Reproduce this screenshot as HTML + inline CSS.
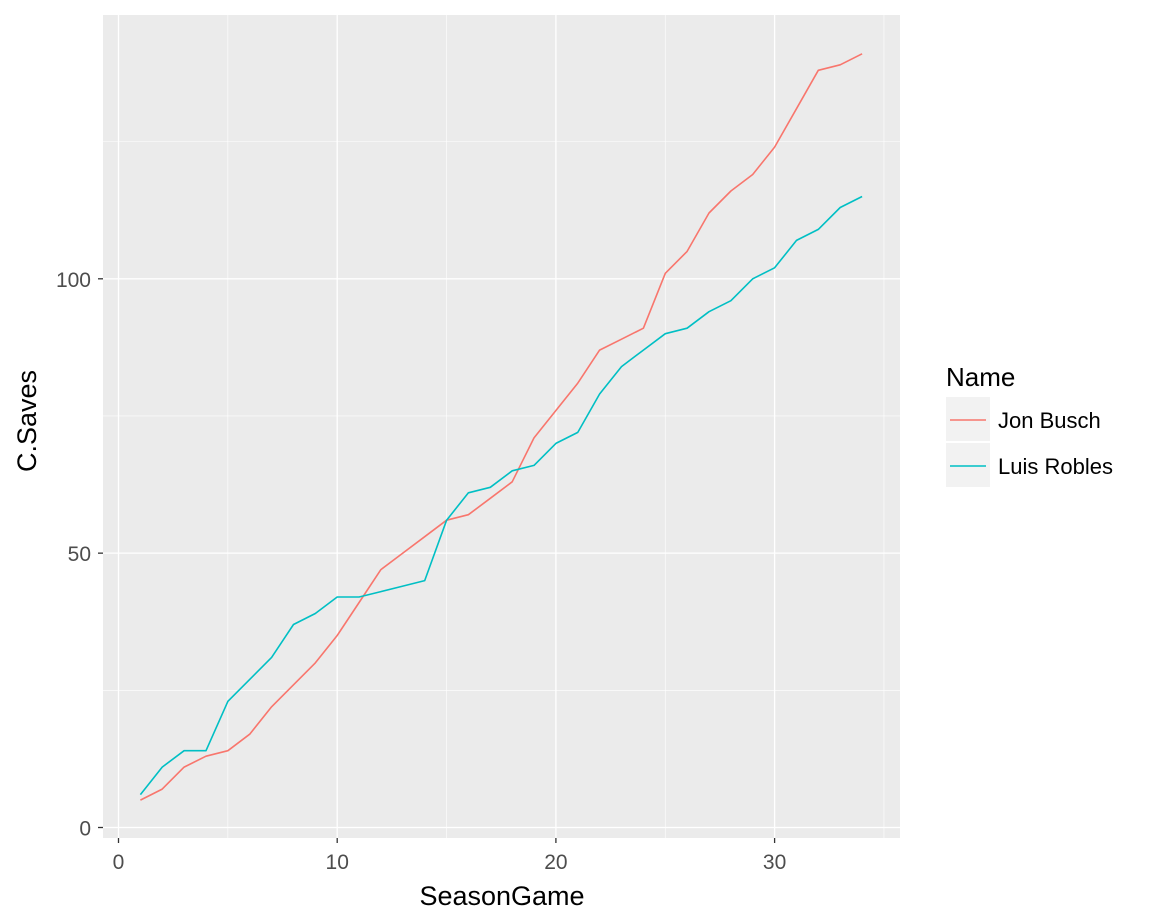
<!DOCTYPE html>
<html><head><meta charset="utf-8"><style>
body{margin:0;background:#fff;}
svg{display:block;font-family:"Liberation Sans",Arial,sans-serif;}
</style></head><body>
<svg id="chart" width="1152" height="921" xmlns="http://www.w3.org/2000/svg">
<rect x="0" y="0" width="1152" height="921" fill="#fff"/>
<rect x="103" y="15" width="797" height="823" fill="#EBEBEB"/>
<g id="grid"></g>
<g id="lines"></g>
<g id="axes"></g>
<text x="502" y="905" font-size="27" text-anchor="middle" fill="#000">SeasonGame</text>
<text x="0" y="0" font-size="27" text-anchor="middle" fill="#000" transform="translate(36,421) rotate(-90)">C.Saves</text>
<g>
<text x="946" y="386" font-size="26" fill="#000">Name</text>
<rect x="946" y="397" width="44" height="44" fill="#F2F2F2"/>
<line x1="950" x2="986" y1="420" y2="420" stroke="#F8766D" stroke-width="1.5"/>
<text x="998" y="428" font-size="22" fill="#000">Jon Busch</text>
<rect x="946" y="443" width="44" height="44" fill="#F2F2F2"/>
<line x1="950" x2="986" y1="466" y2="466" stroke="#00BFC4" stroke-width="1.5"/>
<text x="998" y="474" font-size="22" fill="#000">Luis Robles</text>
</g>
</svg>
<script>
const games = [1,2,3,4,5,6,7,8,9,10,11,12,13,14,15,16,17,18,19,20,21,22,23,24,25,26,27,28,29,30,31,32,33,34];
const jonBusch = [5,7,11,13,14,17,22,26,30,35,41,47,50,53,56,57,60,63,71,76,81,87,89,91,101,105,112,116,119,124,131,138,139,141];
const luisRobles = [6,11,14,14,23,27,31,37,39,42,42,43,44,45,56,61,62,65,66,70,72,79,84,87,90,91,94,96,100,102,107,109,113,115];
const xTicks = [0,10,20,30];
const yTicks = [0,50,100];
const xMinor = [5,15,25,35];
const yMinor = [25,75,125];
const NS="http://www.w3.org/2000/svg";
const X = v => 118.5 + v*21.87;
const Y = v => 827.5 - v*5.487;
const L=103,R=900,T=15,B=838;
function mk(tag,attrs,parent){const e=document.createElementNS(NS,tag);for(const k in attrs)e.setAttribute(k,attrs[k]);parent.appendChild(e);return e;}
const grid=document.getElementById('grid'),axes=document.getElementById('axes'),lines=document.getElementById('lines');
xMinor.forEach(v=>{const e=mk('line',{x1:X(v),x2:X(v),y1:T,y2:B,stroke:'#fff','stroke-width':0.6},grid);

});
yMinor.forEach(v=>{const e=mk('line',{x1:L,x2:R,y1:Y(v),y2:Y(v),stroke:'#fff','stroke-width':0.6},grid);

});
xTicks.forEach(v=>{const e=mk('line',{x1:X(v),x2:X(v),y1:T,y2:B,stroke:'#fff','stroke-width':1.3},grid);


const t=mk('line',{x1:X(v),x2:X(v),y1:B,y2:B+5,stroke:'#333','stroke-width':1.3},axes);


const l=mk('text',{x:X(v),y:869,'font-size':21,'text-anchor':'middle',fill:'#4D4D4D'},axes);l.textContent=v;

});
yTicks.forEach(v=>{const e=mk('line',{x1:L,x2:R,y1:Y(v),y2:Y(v),stroke:'#fff','stroke-width':1.3},grid);


const t=mk('line',{x1:L-5,x2:L,y1:Y(v),y2:Y(v),stroke:'#333','stroke-width':1.3},axes);


const l=mk('text',{x:L-12,y:Y(v)+8,'font-size':21,'text-anchor':'end',fill:'#4D4D4D'},axes);l.textContent=v;

});
function series(vals,color,name){const p=vals.map((v,i)=>X(games[i]).toFixed(1)+','+Y(v).toFixed(1)).join(' ');
const e=mk('polyline',{points:p,fill:'none',stroke:color,'stroke-width':1.6,'stroke-linejoin':'round'},lines);

}
series(jonBusch,'#F8766D','line-jon-busch');
series(luisRobles,'#00BFC4','line-luis-robles');
</script>
</body></html>
